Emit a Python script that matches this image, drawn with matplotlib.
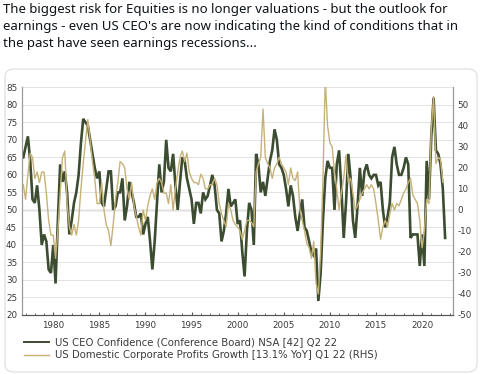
import numpy as np
import matplotlib
matplotlib.use("Agg")
import matplotlib.pyplot as plt
from matplotlib.patches import FancyBboxPatch

plt.rcParams["axes.unicode_minus"] = False

# ---------------- data ----------------
ceo_start = (1976, 3)   # first quarter of CEO confidence series
ceo_conf = [
    65, 68, 71, 64, 53, 52, 57, 50, 40, 43, 41, 33, 32, 40, 29, 47, 63, 58, 61, 55,
    43, 47, 52, 55, 60, 69, 76, 75, 74, 70, 66, 62, 59, 61, 52, 51, 56, 61, 61, 50,
    51, 55, 55, 59, 47, 51, 58, 55, 52, 48, 48, 49, 43, 46, 48, 41, 33, 41, 52, 63,
    55, 58, 70, 62, 61, 66, 57, 50, 58, 65, 64, 59, 56, 53, 46, 52, 52, 49, 55, 53,
    54, 57, 60, 57, 50, 49, 41, 44, 49, 56, 51, 52, 53, 46, 47, 38, 31, 44, 52, 50,
    40, 66, 63, 55, 58, 54, 59, 64, 67, 73, 70, 63, 62, 60, 56, 51, 57, 54, 48, 44,
    49, 53, 45, 44, 41, 38, 37, 39, 24, 32, 47, 59, 64, 62, 62, 50, 63, 67, 56, 42,
    52, 66, 59, 47, 42, 51, 62, 54, 61, 63, 60, 59, 60, 60, 57, 58, 50, 45, 48, 52,
    65, 68, 63, 60, 60, 62, 65, 63, 42, 43, 43, 43, 34, 43, 34, 64, 53, 71, 82, 67,
    66, 63, 56, 42,
]

profit_start = (1976, 3)  # first quarter of profits growth series
profit_growth = [
    12, 5, 17, 27, 25, 15, 18, 13, 18, 18, 8, -5, -12, -12, -23, -10, 8, 25, 28, 3,
    -8, -12, -7, -12, -5, 10, 22, 33, 43, 33, 23, 15, 3, 3, 13, 0, -7, -10, -17, -7,
    5, 13, 23, 22, 20, 10, 5, 13, 2, -3, -8, -12, 0, -5, 2, 7, 10, 5, 13, 15,
    13, 8, 8, 3, 12, 0, 10, 18, 25, 28, 23, 27, 18, 15, 13, 13, 12, 17, 15, 10,
    10, 12, 12, 15, 12, 3, -2, -5, -8, 3, 0, -5, -7, -8, -10, -14, -10, -5, -5, -6,
    -8, 18, 22, 25, 48, 25, 22, 20, 15, 20, 22, 25, 22, 20, 18, 12, 20, 15, 14, 18,
    0, -5, -10, -16, -18, -23, -15, -35, -40, -20, 15, 62, 40, 32, 30, 18, 10, 0, 8, 15,
    26, 13, 15, 8, 0, 2, 5, 8, 10, 12, 10, 12, 10, 3, -5, -14, -8, -5, -8, -2,
    3, 0, 3, 2, 5, 8, 10, 13, 15, 7, 5, 3, -5, -18, -10, 5, 3, 38, 54, 22,
    25, 24, 13.1,
]

year_ticks = [1980, 1985, 1990, 1995, 2000, 2005, 2010, 2015, 2020]
left_ticks = list(range(20, 90, 5))
right_ticks = list(range(-50, 60, 10))

title = ("The biggest risk for Equities is no longer valuations - but the outlook for\n"
         "earnings - even US CEO's are now indicating the kind of conditions that in\n"
         "the past have seen earnings recessions...")
label_ceo = "US CEO Confidence (Conference Board) NSA [42] Q2 22"
label_profit = "US Domestic Corporate Profits Growth [13.1% YoY] Q1 22 (RHS)"


def quarter_dates(start, n):
    y, q = start
    return np.array([y + (q - 1) / 4.0 + 0.25 + i / 4.0 for i in range(n)])


ceo_x = quarter_dates(ceo_start, len(ceo_conf))
profit_x = quarter_dates(profit_start, len(profit_growth))

# ---------------- style ----------------
DARK = "#3c4c30"
TAN = "#c6b277"
TXT = "#3a3a3a"
W, H = 486, 374

fig = plt.figure(figsize=(W / 100, H / 100), dpi=100)
fig.patch.set_facecolor("white")

# card border
card = FancyBboxPatch((5 / W, 2 / H), 472 / W, 303 / H,
                      boxstyle="round,pad=0,rounding_size=0.02",
                      transform=fig.transFigure, facecolor="none",
                      edgecolor="#d9dee2", linewidth=0.8, zorder=0)
fig.patches.append(card)

fig.text(3 / W, 1 - 3 / H, title, ha="left", va="top", fontsize=9.5,
         family="Noto Sans", color="#0f1419", linespacing=1.42)

ax = fig.add_axes([22 / W, 1 - 315 / H, 430.5 / W, 227.7 / H])
ax.set_facecolor("none")
ax.set_ylim(20, 85)
ax.set_xlim(1976.61, 2023.3)
ax.set_yticks(left_ticks)
ax.set_xticks(year_ticks)
ax.set_xticks(np.arange(1977, 2024), minor=True)
ax.grid(axis="y", color="#e3e3e3", linewidth=0.7)
ax.axhline(50, color="#8a8a8a", linewidth=0.9, zorder=1)
ax.plot(ceo_x, ceo_conf, color=DARK, linewidth=1.9, zorder=3,
        solid_joinstyle="miter")

ax.spines["top"].set_visible(False)
for s in ["left", "right", "bottom"]:
    ax.spines[s].set_color("#9a9a9a")
    ax.spines[s].set_linewidth(0.8)
ax.spines["bottom"].set_color("#555555")

ax.tick_params(axis="y", length=0, labelsize=6.3, labelcolor=TXT, pad=3.5)
ax.tick_params(axis="x", which="major", direction="in", length=2.5,
               labelsize=6.3, labelcolor=TXT, pad=4, color="#555555")
ax.tick_params(axis="x", which="minor", direction="in", length=1.5,
               color="#555555")

ax2 = ax.twinx()
ax2.set_ylim(-50, (85 - 50) * 5 / 3)
ax2.set_yticks(right_ticks)
ax2.plot(profit_x, profit_growth, color=TAN, linewidth=1.0, zorder=4)
ax2.spines["top"].set_visible(False)
for s in ["left", "right", "bottom"]:
    ax2.spines[s].set_color("#9a9a9a")
    ax2.spines[s].set_linewidth(0.8)
ax2.spines["bottom"].set_color("#555555")
ax2.tick_params(axis="y", length=0, labelsize=6.3, labelcolor=TXT, pad=3.5)

# legend
lax = fig.add_axes([0, 0, 1, 1], facecolor="none")
lax.set_xlim(0, W)
lax.set_ylim(H, 0)
lax.axis("off")
lax.plot([24, 49], [342, 342], color=DARK, linewidth=1.4)
lax.plot([24, 49], [355, 355], color=TAN, linewidth=1.0)
lax.text(55, 342, label_ceo, va="center", ha="left", fontsize=7.3,
         color=TXT, family="DejaVu Sans")
lax.text(55, 355, label_profit, va="center", ha="left", fontsize=7.3,
         color=TXT, family="DejaVu Sans")

fig.savefig("out.png", dpi=100, facecolor="white")
